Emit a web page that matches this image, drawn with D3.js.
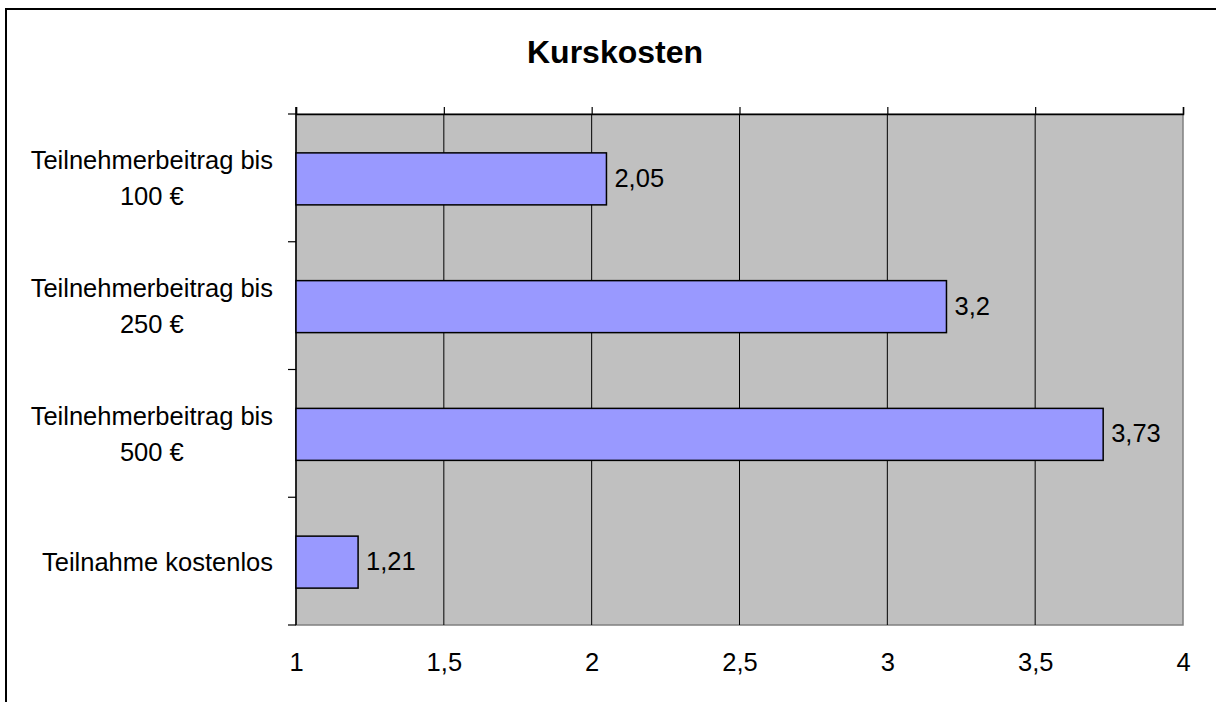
<!DOCTYPE html>
<meta charset="utf-8">
<style>
    body { margin: 0; background: #fff; }
    text { font-family: "Liberation Sans", Arial, sans-serif; fill: #000; }
</style>
<body>
<script src="https://d3js.org/d3.v7.min.js"></script>
<script>
    // chart data
    var categories = [
        ["Teilnehmerbeitrag bis", "100 €"],
        ["Teilnehmerbeitrag bis", "250 €"],
        ["Teilnehmerbeitrag bis", "500 €"],
        ["Teilnahme kostenlos"]
    ];
    var values = [2.05, 3.2, 3.73, 1.21];
    var xTicks = [1, 1.5, 2, 2.5, 3, 3.5, 4];
    var title = "Kurskosten";

    var width = 1216,
        height = 702,
        fontSize = "25.5px";

    var plot = {left: 296, top: 114, right: 1183, bottom: 625};

    var de = d3.formatLocale({decimal: ",", thousands: ".", grouping: [3], currency: ["", " €"]});
    var fmt = de.format("~g");

    var svg = d3.select("body").append("svg")
        .attr("width", width)
        .attr("height", height);

    // outer chart frame (runs past the window on the right and bottom)
    svg.append("rect")
        .attr("x", 6).attr("y", 9)
        .attr("width", width + 20).attr("height", height + 20)
        .attr("fill", "#fff")
        .attr("stroke", "#000")
        .attr("stroke-width", 2);

    var x = d3.scaleLinear()
        .domain([1, 4])
        .range([plot.left, plot.right]);

    var keys = categories.map(function (c, i) { return i; });
    var y = d3.scaleBand()
        .domain(keys)
        .range([plot.top, plot.bottom])
        .paddingInner(0.593)
        .paddingOuter(0.2965);

    // plot area background
    svg.append("rect")
        .attr("x", plot.left).attr("y", plot.top)
        .attr("width", plot.right - plot.left)
        .attr("height", plot.bottom - plot.top)
        .attr("fill", "#c0c0c0")
        .attr("stroke", "#808080")
        .attr("stroke-width", 1.5);

    // vertical grid lines
    svg.append("g")
        .selectAll("line")
        .data(xTicks.slice(1, -1))
        .enter().append("line")
        .attr("x1", d => x(d)).attr("x2", d => x(d))
        .attr("y1", plot.top).attr("y2", plot.bottom)
        .attr("stroke", "#000")
        .attr("stroke-width", 1);

    // x axis on top (ticks only)
    var xTop = svg.append("g")
        .attr("transform", "translate(0," + plot.top + ")")
        .call(d3.axisTop(x).tickValues(xTicks).tickSize(7).tickFormat(""));
    xTop.select(".domain").attr("stroke", "#000").attr("stroke-width", 1.5);
    xTop.selectAll(".tick line").attr("stroke", "#000").attr("stroke-width", 1.2);

    // x tick labels below the plot
    var xBottom = svg.append("g")
        .attr("transform", "translate(0," + plot.bottom + ")")
        .call(d3.axisBottom(x).tickValues(xTicks).tickSize(0).tickPadding(0).tickFormat(fmt));
    xBottom.select(".domain").remove();
    xBottom.selectAll("text")
        .attr("y", 46).attr("dy", 0)
        .style("font-size", fontSize)
        .style("font-family", "'Liberation Sans', Arial, sans-serif")
        .attr("fill", "#000");

    // y axis line and category boundary ticks
    svg.append("line")
        .attr("x1", plot.left).attr("x2", plot.left)
        .attr("y1", plot.top - 7).attr("y2", plot.bottom)
        .attr("stroke", "#000").attr("stroke-width", 1.5);
    var bounds = keys.map(function (k) { return y(k) - y.step() * y.paddingOuter(); });
    bounds.push(plot.bottom);
    svg.append("g")
        .selectAll("line")
        .data(bounds)
        .enter().append("line")
        .attr("x1", plot.left - 8).attr("x2", plot.left)
        .attr("y1", d => d).attr("y2", d => d)
        .attr("stroke", "#000").attr("stroke-width", 1.2);

    // bars
    svg.append("g")
        .selectAll("rect")
        .data(values)
        .enter().append("rect")
        .attr("x", x(1))
        .attr("y", (d, i) => y(i) + 1)
        .attr("width", d => x(d) - x(1))
        .attr("height", y.bandwidth())
        .attr("fill", "#9999ff")
        .attr("stroke", "#000")
        .attr("stroke-width", 1.5);

    // value labels
    svg.append("g")
        .selectAll("text")
        .data(values)
        .enter().append("text")
        .attr("x", d => x(d) + 8)
        .attr("y", (d, i) => y(i) + y.bandwidth() / 2 + 9)
        .style("font-size", fontSize)
        .text(d => fmt(d));

    // category labels: lines centred inside a right-aligned block
    var labelRight = 273;
    var catG = svg.append("g");
    categories.forEach(function (lines, i) {
        var mid = y(i) + y.bandwidth() / 2 + 1;
        var t = catG.append("text")
            .style("font-size", fontSize)
            .attr("text-anchor", "middle");
        var spans = lines.map(function (s, j) {
            return t.append("tspan")
                .attr("y", mid + 8.5 - (lines.length - 1) * 18 + j * 36)
                .text(s);
        });
        var w = d3.max(spans, s => s.node().getComputedTextLength());
        spans.forEach(s => s.attr("x", labelRight - w / 2));
    });

    // title
    svg.append("text")
        .attr("x", 615).attr("y", 63)
        .attr("text-anchor", "middle")
        .style("font-size", "32px")
        .style("font-weight", "bold")
        .text(title);
</script>
</body>
</html>
